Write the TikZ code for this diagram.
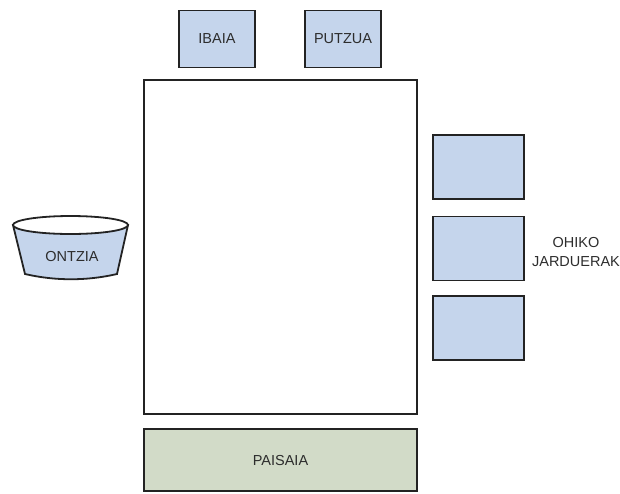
\documentclass[tikz,border=0pt]{standalone}
\usepackage{fontspec}
\setmainfont{Liberation Sans}
\usetikzlibrary{positioning}
\definecolor{boxblue}{RGB}{197,213,236}
\definecolor{landgreen}{RGB}{210,219,200}
\definecolor{edgegray}{RGB}{35,35,35}
\definecolor{textgray}{RGB}{45,45,45}
\tikzset{every node/.style={text=textgray,font=\fontsize{14.5}{19.5}\selectfont}}
\tikzstyle{water}=[draw=edgegray,line width=1.8pt,fill=boxblue,inner sep=0pt,minimum width=76pt,minimum height=57pt]
\tikzstyle{activity}=[draw=edgegray,line width=1.8pt,fill=boxblue,inner sep=0pt,minimum width=91pt,minimum height=64pt]
\tikzstyle{area}=[draw=edgegray,line width=1.8pt,inner sep=0pt,minimum width=273pt]

\begin{document}
\begin{tikzpicture}[x=1pt,y=-1pt]  % pixel grid, y goes down
\useasboundingbox (0,0) rectangle (620,493);

\node[water] (ibaia) at (217,39) {IBAIA};
\node[water] (putzua) at (343,39) {PUTZUA};

\node[area,fill=white,minimum height=334pt] (erdia) at (280.5,247) {};
\node[area,fill=landgreen,minimum height=62pt] (paisaia) at (280.5,460) {PAISAIA};

\node[activity] (jard1) at (478.5,167) {};
\node[activity] (jard2) at (478.5,248.5) {};
\node[activity] (jard3) at (478.5,328) {};
\node[align=center] (ohiko) at (576,252) {OHIKO\\JARDUERAK};

% ontzia
\draw[edgegray,line width=1.8pt,fill=boxblue] (13,225) -- (25,274)
      .. controls (55,281) and (87,281) .. (117,274)
      -- (128,225) -- cycle;
\draw[edgegray,line width=1.8pt,fill=white] (70.5,225) ellipse [x radius=57.5,y radius=9];
\node (ontzia) at (72,257) {ONTZIA};
\end{tikzpicture}
\end{document}
